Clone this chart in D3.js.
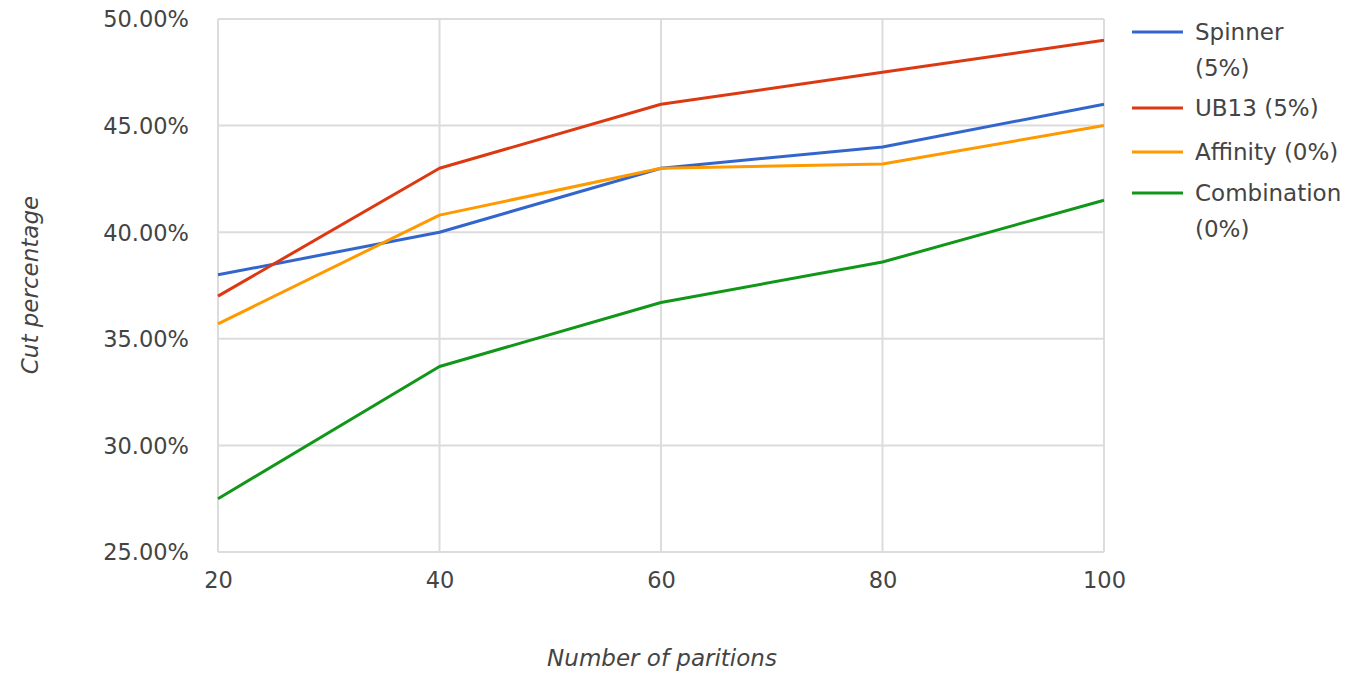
<!DOCTYPE html>
<html><head><meta charset="utf-8">
<script src="https://cdn.jsdelivr.net/npm/d3@7"></script>
<style>body{margin:0;background:#fff;} text{font-family:"DejaVu Sans",sans-serif;fill:#444;}</style>
</head><body>
<svg id="chart" width="1351" height="673"></svg>
<script>
const partitions = [20, 40, 60, 80, 100];
const spinner = [38.0, 40.0, 43.0, 44.0, 46.0];
const ub13 = [37.0, 43.0, 46.0, 47.5, 49.0];
const affinity = [35.7, 40.8, 43.0, 43.2, 45.0];
const combination = [27.5, 33.7, 36.7, 38.6, 41.5];
const seriesNames = [["Spinner", "(5%)"], ["UB13 (5%)"], ["Affinity (0%)"], ["Combination", "(0%)"]];
const seriesColors = ["#3366cc", "#dc3912", "#ff9900", "#109618"];
const yTicks = [25, 30, 35, 40, 45, 50];
const xTitle = "Number of paritions";
const yTitle = "Cut percentage";

const series = [spinner, ub13, affinity, combination];
const svg = d3.select("#chart");
const L = 218, R = 1104, T = 19, B = 552;
const x = d3.scaleLinear().domain([20, 100]).range([L, R]);
const y = d3.scaleLinear().domain([25, 50]).range([B, T]);

const grid = svg.append("g");
grid.selectAll("line.h").data(yTicks).join("line")
  .attr("x1", L).attr("x2", R).attr("y1", d => y(d)).attr("y2", d => y(d))
  .attr("stroke", "#dcdcdc").attr("stroke-width", 2);
grid.selectAll("line.v").data(partitions).join("line")
  .attr("y1", T).attr("y2", B).attr("x1", d => x(d)).attr("x2", d => x(d))
  .attr("stroke", "#dcdcdc").attr("stroke-width", 2);

const yAxis = d3.axisLeft(y).tickValues(yTicks).tickSize(0).tickPadding(0)
  .tickFormat(d => d3.format(".2f")(d) + "%");
const ya = svg.append("g").attr("transform", `translate(189,0)`).call(yAxis);
ya.select(".domain").remove();
ya.selectAll("text").attr("font-size", 22.5).style("font-family", "DejaVu Sans").attr("fill", "#444").attr("dy", "0.35em");

const xAxis = d3.axisBottom(x).tickValues(partitions).tickSize(0).tickPadding(0).tickFormat(d3.format("d"));
const xa = svg.append("g").attr("transform", `translate(0,572)`).call(xAxis);
xa.select(".domain").remove();
xa.selectAll("text").attr("font-size", 22.5).style("font-family", "DejaVu Sans").attr("fill", "#444").attr("dy", "0.71em");

const line = d3.line().x((d, i) => x(partitions[i])).y(d => y(d));
svg.append("g").selectAll("path").data(series).join("path")
  .attr("d", d => line(d)).attr("fill", "none")
  .attr("stroke", (d, i) => seriesColors[i]).attr("stroke-width", 3)
  .attr("stroke-linejoin", "round");

svg.append("text").attr("x", 662).attr("y", 658).attr("text-anchor", "middle")
  .attr("dy", "0.35em").attr("font-size", 23).attr("font-style", "italic").text(xTitle);
svg.append("text").attr("transform", "translate(30,285) rotate(-90)").attr("text-anchor", "middle")
  .attr("dy", "0.35em").attr("font-size", 23).attr("font-style", "italic").text(yTitle);

const legY = [32, 108, 152, 193];
const leg = svg.append("g");
seriesNames.forEach((names, i) => {
  leg.append("line").attr("x1", 1132).attr("x2", 1183).attr("y1", legY[i]).attr("y2", legY[i])
    .attr("stroke", seriesColors[i]).attr("stroke-width", 3);
  names.forEach((t, j) => {
    leg.append("text").attr("x", 1195).attr("y", legY[i] + j * 36).attr("dy", "0.35em")
      .attr("font-size", 23).text(t);
  });
});
</script>
</body></html>
